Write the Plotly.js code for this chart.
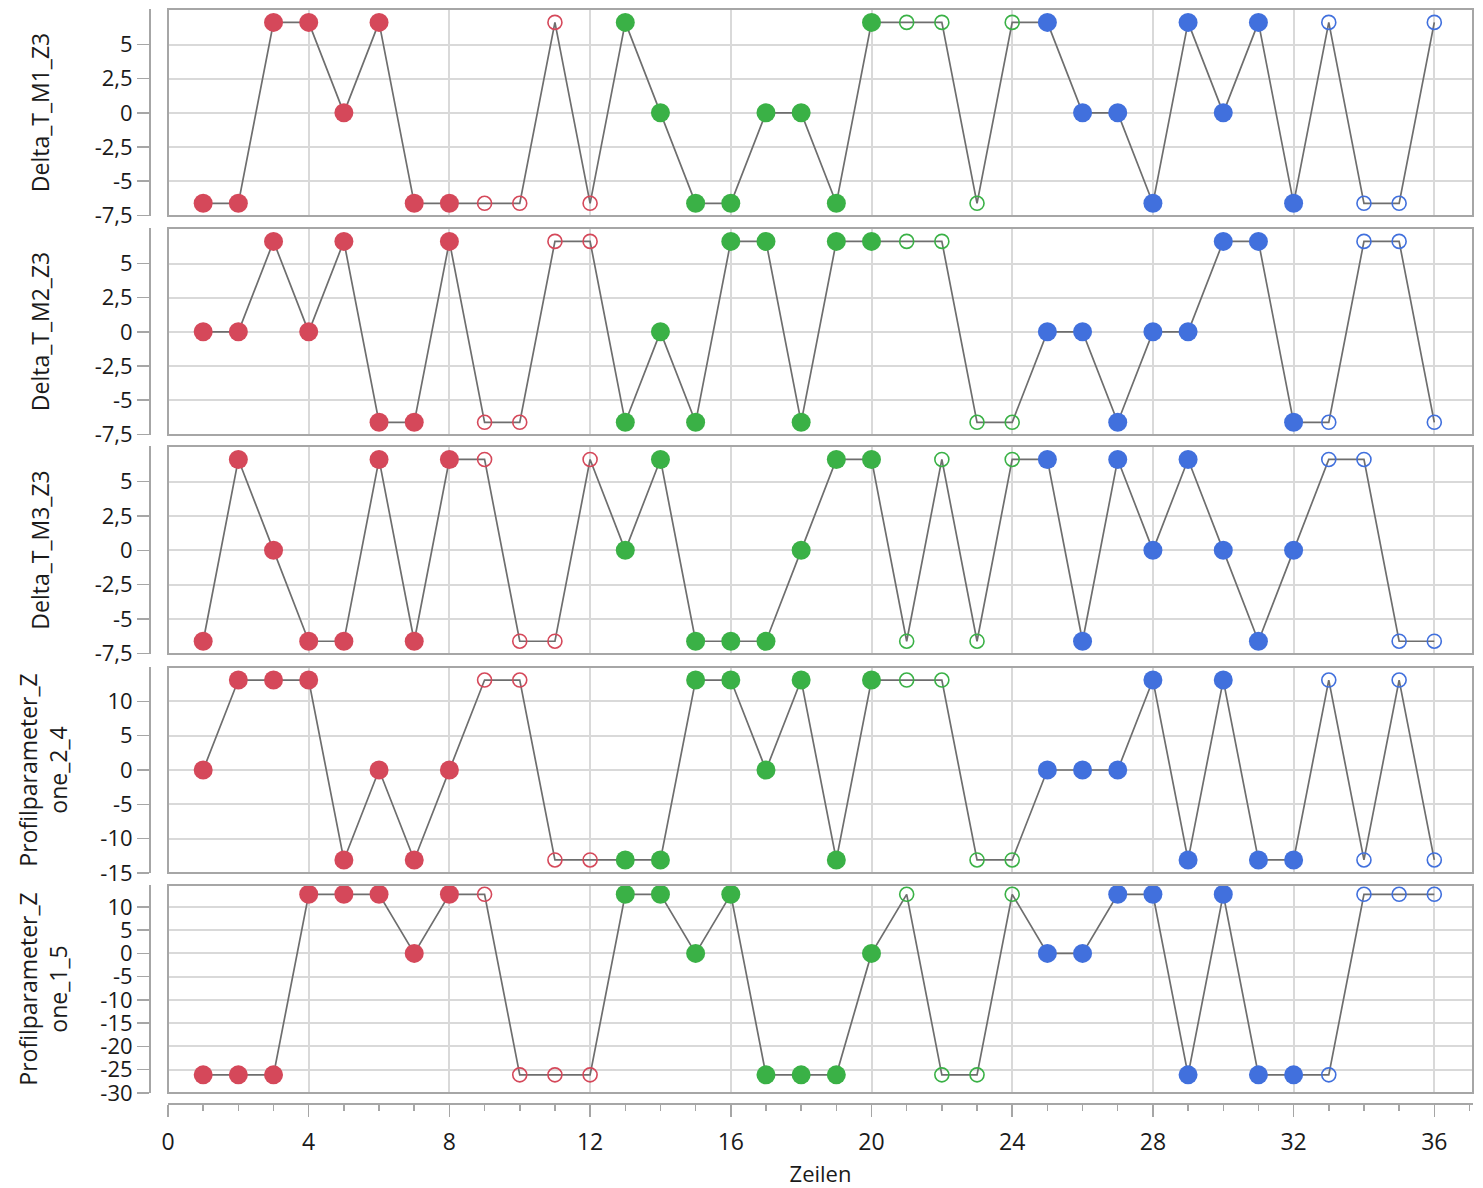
<!DOCTYPE html>
<html>
<head>
<meta charset="utf-8">
<script src="https://cdn.plot.ly/plotly-3.0.1.min.js"></script>
<style>html,body{margin:0;padding:0;background:#fff;}#chart{width:1483px;height:1188px;}</style>
</head>
<body>
<div id="chart"></div>
<script>
// Row numbers (x)
const rows = [1,2,3,4,5,6,7,8,9,10,11,12,13,14,15,16,17,18,19,20,21,22,23,24,25,26,27,28,29,30,31,32,33,34,35,36];
// Colour group of each row
const groups = ["r","r","r","r","r","r","r","r","r","r","r","r",
                "g","g","g","g","g","g","g","g","g","g","g","g",
                "b","b","b","b","b","b","b","b","b","b","b","b"];
// Open (hollow) marker flag per row
const hollow = [0,0,0,0,0,0,0,0,1,1,1,1,
                0,0,0,0,0,0,0,0,1,1,1,1,
                0,0,0,0,0,0,0,0,1,1,1,1];

const deltaM1 = [-6.62,-6.62,6.62,6.62,0,6.62,-6.62,-6.62,-6.62,-6.62,6.62,-6.62,
                 6.62,0,-6.62,-6.62,0,0,-6.62,6.62,6.62,6.62,-6.62,6.62,
                 6.62,0,0,-6.62,6.62,0,6.62,-6.62,6.62,-6.62,-6.62,6.62];
const deltaM2 = [0,0,6.62,0,6.62,-6.62,-6.62,6.62,-6.62,-6.62,6.62,6.62,
                 -6.62,0,-6.62,6.62,6.62,-6.62,6.62,6.62,6.62,6.62,-6.62,-6.62,
                 0,0,-6.62,0,0,6.62,6.62,-6.62,-6.62,6.62,6.62,-6.62];
const deltaM3 = [-6.62,6.62,0,-6.62,-6.62,6.62,-6.62,6.62,6.62,-6.62,-6.62,6.62,
                 0,6.62,-6.62,-6.62,-6.62,0,6.62,6.62,-6.62,6.62,-6.62,6.62,
                 6.62,-6.62,6.62,0,6.62,0,-6.62,0,6.62,6.62,-6.62,-6.62];
const zone24 = [0,13.1,13.1,13.1,-13.1,0,-13.1,0,13.1,13.1,-13.1,-13.1,
                -13.1,-13.1,13.1,13.1,0,13.1,-13.1,13.1,13.1,13.1,-13.1,-13.1,
                0,0,0,13.1,-13.1,13.1,-13.1,-13.1,13.1,-13.1,13.1,-13.1];
const zone15 = [-26.1,-26.1,-26.1,12.7,12.7,12.7,0,12.7,12.7,-26.1,-26.1,-26.1,
                12.7,12.7,0,12.7,-26.1,-26.1,-26.1,0,12.7,-26.1,-26.1,12.7,
                0,0,12.7,12.7,-26.1,12.7,-26.1,-26.1,-26.1,12.7,12.7,12.7];

const panelNames = ["Delta_T_M1_Z3","Delta_T_M2_Z3","Delta_T_M3_Z3","Profilparameter_Z<br>one_2_4","Profilparameter_Z<br>one_1_5"];
const panelValues = [deltaM1, deltaM2, deltaM3, zone24, zone15];

const deltaTicks = [-7.5,-5,-2.5,0,2.5,5];
const deltaTickText = ["-7,5","-5","-2,5","0","2,5","5"];
const z24Ticks = [-15,-10,-5,0,5,10];
const z24TickText = ["-15","-10","-5","0","5","10"];
const z15Ticks = [-30,-25,-20,-15,-10,-5,0,5,10];
const z15TickText = ["-30","-25","-20","-15","-10","-5","0","5","10"];
const xTicks = [0,4,8,12,16,20,24,28,32,36];
const xTickText = ["0","4","8","12","16","20","24","28","32","36"];

const palette = {r:"#D5485A", g:"#3AB146", b:"#4170DD"};
const FONT = "Segoe UI, 'Open Sans', 'Noto Sans', sans-serif";
const H = 1188;
const panelPx = [[9,216],[228,435],[446,654],[667,873],[885,1093]];
const ranges = [[-7.55,7.6],[-7.55,7.6],[-7.55,7.6],[-15,15],[-30,14.7]];
const tickSets = [[deltaTicks,deltaTickText],[deltaTicks,deltaTickText],[deltaTicks,deltaTickText],[z24Ticks,z24TickText],[z15Ticks,z15TickText]];
const titleGap = [38,38,38,25,25];

const traces = [];
const layout = {
  width:1483, height:1188,
  margin:{l:150, r:10, t:0, b:0},
  paper_bgcolor:"#fff", plot_bgcolor:"#fff",
  showlegend:false,
  font:{family:FONT, size:21, color:"#1a1a1a"},
  shapes:[],
  xaxis:{
    domain:[18/1323, 1], range:[0,37.1], anchor:"free", position:1-1104/H,
    showline:true, linecolor:"#a6a6a6", linewidth:2,
    tickvals:xTicks, ticktext:xTickText, ticks:"outside", ticklen:12, tickwidth:1.5, tickcolor:"#a6a6a6",
    ticklabelstandoff:5,
    minor:{dtick:1, tick0:0, ticks:"outside", ticklen:6, tickwidth:1.5, tickcolor:"#a6a6a6", showgrid:false},
    showgrid:true, gridcolor:"#d9d9d9", gridwidth:2,
    zeroline:false,
    tickfont:{size:23},
    title:{text:"Zeilen", font:{size:22}, standoff:14}
  }
};

const symbols = hollow.map(h => h ? "circle-open" : "circle");
const sizes = hollow.map(h => h ? 14 : 19);
const colors = groups.map(g => palette[g]);
const lineWidths = hollow.map(h => h ? 1.6 : 0);

panelValues.forEach((vals, i) => {
  const yName = i === 0 ? "y" : "y" + (i+1);
  const yKey = i === 0 ? "yaxis" : "yaxis" + (i+1);
  traces.push({x:rows, y:vals, xaxis:"x", yaxis:yName, mode:"lines",
    line:{color:"#6e6e6e", width:1.7}, hoverinfo:"skip"});
  traces.push({x:rows, y:vals, xaxis:"x", yaxis:yName, mode:"markers",
    marker:{symbol:symbols, size:sizes, color:colors, opacity:1, line:{color:colors, width:lineWidths}}});
  const [top, bot] = panelPx[i];
  layout[yKey] = {
    domain:[1-bot/H, 1-top/H], range:ranges[i], anchor:"free", position:0,
    showline:true, linecolor:"#a6a6a6", linewidth:2,
    tickvals:tickSets[i][0], ticktext:tickSets[i][1],
    ticks:"outside", ticklen:12, tickwidth:1.5, tickcolor:"#a6a6a6",
    showgrid:true, gridcolor:"#d9d9d9", gridwidth:2, zeroline:false,
    tickfont:{size:22},
    title:{text:panelNames[i], font:{size:23}, standoff:titleGap[i]}
  };
  layout.shapes.push({type:"rect", xref:"x domain", yref:yName+" domain",
    x0:0, x1:1, y0:0, y1:1, line:{color:"#a6a6a6", width:2}, layer:"above"});
});

Plotly.newPlot("chart", traces, layout, {displayModeBar:false, staticPlot:true});
</script>
</body>
</html>
